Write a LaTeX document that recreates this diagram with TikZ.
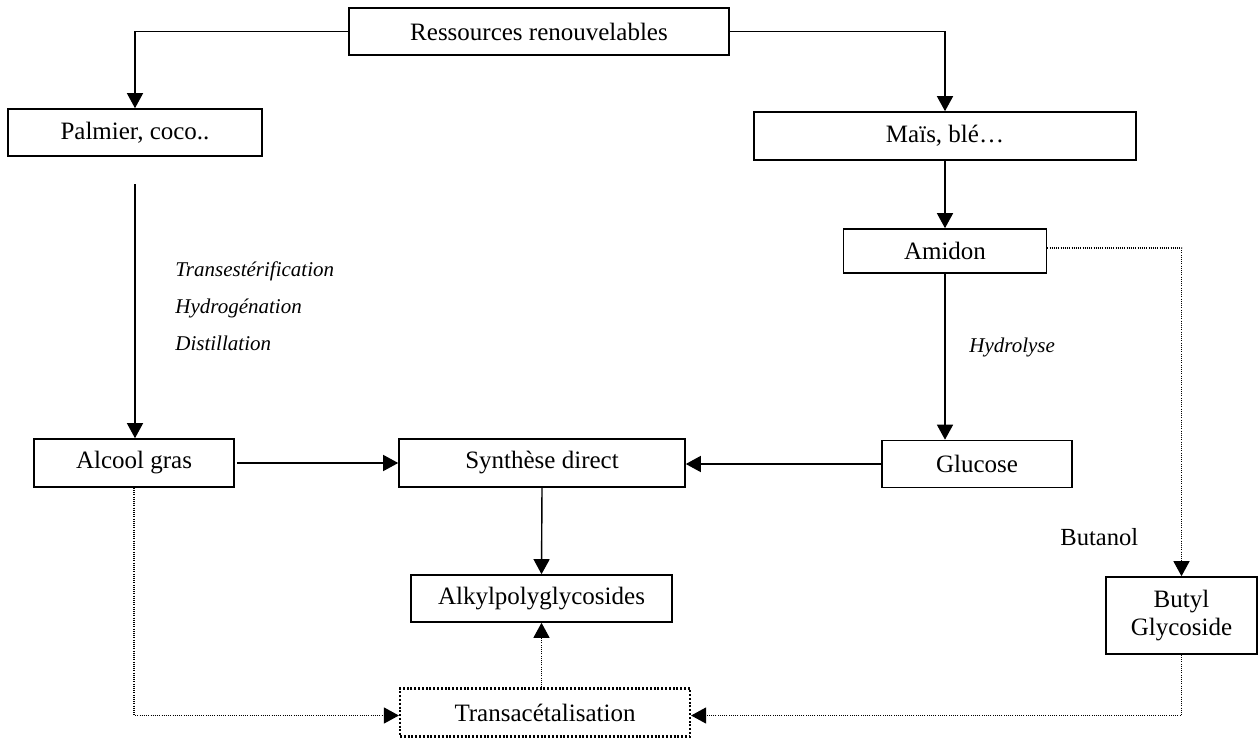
\documentclass[tikz,border=0pt]{standalone}
\usepackage{fontspec}
\setmainfont{Liberation Serif}
\usetikzlibrary{arrows.meta}
\begin{document}
\begin{tikzpicture}[x=0.5pt,y=-0.5pt,
  box/.style={draw, line width=0.8pt, inner sep=0pt, font=\fontsize{12.5}{15}\selectfont},
  dbox/.style={box, line width=1.1pt, dash pattern=on 1pt off 0.9pt},
  arr/.style={line width=0.7pt, -{Triangle[length=7.5pt,width=8pt]}},
  darr/.style={line width=0.6pt, dash pattern=on 0.5pt off 0.6pt, -{Triangle[length=7.5pt,width=8pt]}},
  lab/.style={font=\fontsize{10.5}{12}\selectfont\itshape, anchor=base west, inner sep=0pt},
  plab/.style={font=\fontsize{12.3}{14}\selectfont, anchor=base west, inner sep=0pt}]
\useasboundingbox (0,0) rectangle (1259,739);
\node[box, minimum width=190pt, minimum height=23.5pt] (res) at (539,31.5) {Ressources renouvelables};
\node[box, minimum width=127pt, minimum height=23.5pt] (pal) at (135,132.5) {Palmier, coco..};
\node[box, minimum width=191pt, minimum height=24pt] (mais) at (945,136) {Maïs, blé…};
\node[box, minimum width=101.5pt, minimum height=22pt] (ami) at (945,251) {Amidon};
\node[box, minimum width=100pt, minimum height=24pt] (alc) at (134,463) {Alcool gras};
\node[box, minimum width=143pt, minimum height=24pt] (syn) at (542,463) {Synthèse direct};
\node[box, minimum width=95pt, minimum height=23.5pt] (glu) at (977,464) {Glucose};
\node[box, minimum width=130.5pt, minimum height=23.5pt] (alk) at (541.5,598.5) {Alkylpolyglycosides};
\node[box, minimum width=75.5pt, minimum height=38.5pt, align=center] (but) at (1181.5,615.5) {Butyl\\[-1pt]Glycoside};
\node[dbox, minimum width=145pt, minimum height=24pt] (tra) at (545,712.5) {Transacétalisation};
\coordinate (p1) at (135,184);
\draw[arr] (res.west) -| (pal.north);
\draw[arr] (res.east) -| (mais.north);
\draw[arr] (mais.south) -- (ami.north);
\draw[arr] (p1) -- (p1 |- alc.north);
\draw[arr] (ami.south) -- (ami.south |- glu.north);
\draw[arr] ([xshift=1pt]alc.east) -- (syn.west);
\draw[arr] (glu.west) -- (glu.west -| syn.east);
\draw[arr] (syn.south) -- (alk.north);
\draw[darr] ([yshift=1.5pt]ami.east) -| (but.north);
\draw[darr] (alc.south) |- ([yshift=-1.5pt]tra.west);
\draw[darr] (but.south) |- ([yshift=-1.5pt]tra.east);
\draw[darr] (alk.south |- tra.north) -- (alk.south);
\node[lab] (l1) at (175,276) {Transestérification};
\node[lab] (l2) at (175,313) {Hydrogénation};
\node[lab] (l3) at (175,350) {Distillation};
\node[lab] (l4) at (969,352) {Hydrolyse};
\node[plab] (l5) at (1060,545) {Butanol};
\end{tikzpicture}
\end{document}
